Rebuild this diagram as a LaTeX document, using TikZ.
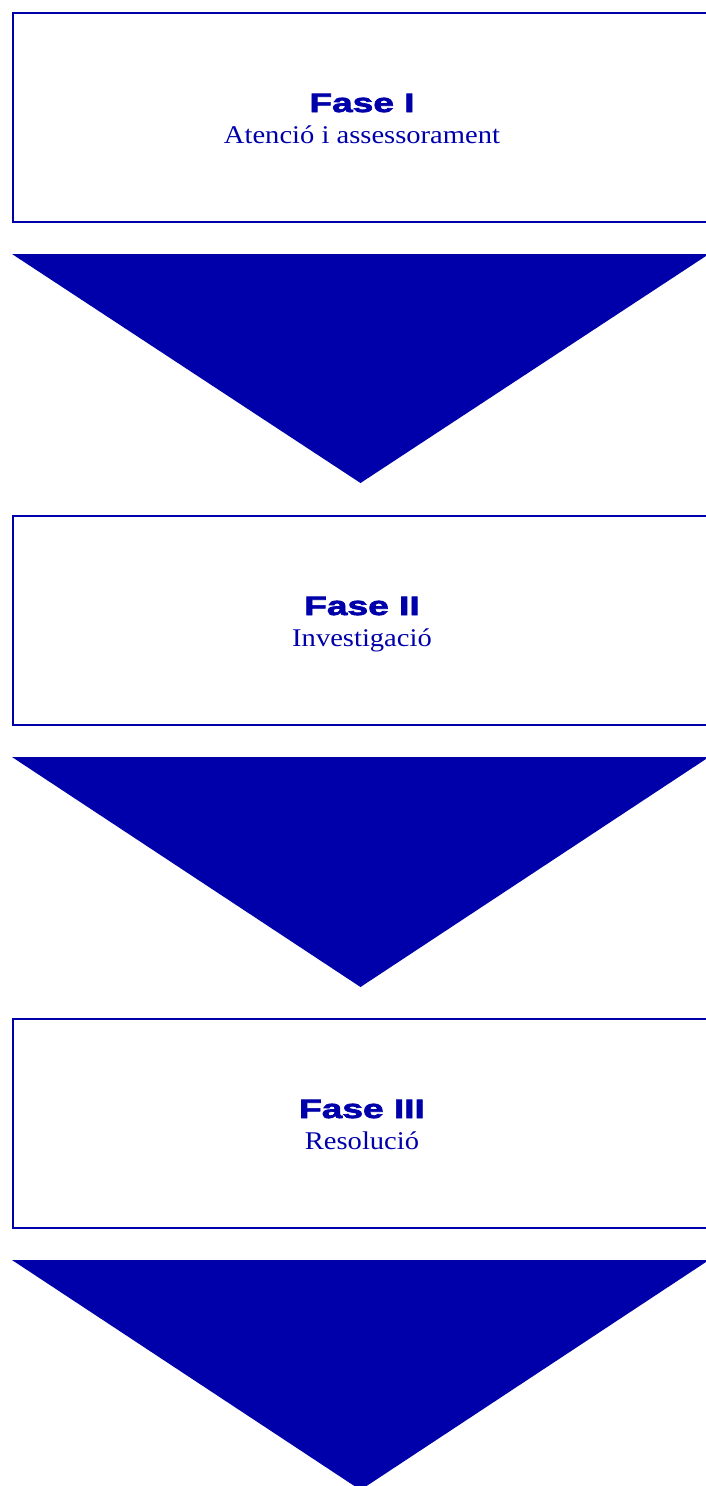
\documentclass[tikz,border=0pt]{standalone}
\usepackage{fontspec}
\setmainfont{Liberation Serif}
\newfontfamily\widefont[FakeStretch=1.40,FakeBold=2.6]{Liberation Sans Bold}
\newfontfamily\bodyfont[FakeStretch=1.12]{Liberation Serif}
\definecolor{fblue}{HTML}{0000AA}
\begin{document}
\begin{tikzpicture}[x=1pt,y=-1pt,
  phasebox/.style={draw=fblue,line width=2pt,rectangle,minimum width=700pt,minimum height=209pt,inner sep=0pt,anchor=north west},
  phasetitle/.style={anchor=base,text=fblue,inner sep=0pt,font=\widefont\fontsize{26.5}{30}\selectfont},
  phasetext/.style={anchor=base,text=fblue,inner sep=0pt,font=\bodyfont\fontsize{25.5}{30}\selectfont},
  arrowtri/.style={fill=fblue,draw=none}]
\useasboundingbox (0,0) rectangle (706,1486);
\begin{scope}
\clip (0,0) rectangle (706,1486);
% boxes
\node[phasebox] (b1) at (12,12) {};
\node[phasebox] (b2) at (12,515) {};
\node[phasebox] (b3) at (12,1018) {};
% texts
\node[phasetitle] (t1) at (362,112) {Fase I};
\node[phasetext] (s1) at (362,143.5) {Atenció i assessorament};
\node[phasetitle] (t2) at (362,615) {Fase II};
\node[phasetext] (s2) at (362,646.5) {Investigació};
\node[phasetitle] (t3) at (362,1118) {Fase III};
\node[phasetext] (s3) at (362,1149.5) {Resolució};
% triangles
\fill[arrowtri] (12,254) -- (709,254) -- (360.5,483) -- cycle;
\fill[arrowtri] (12,757) -- (709,757) -- (360.5,987) -- cycle;
\fill[arrowtri] (12,1260) -- (709,1260) -- (360.5,1490) -- cycle;
\end{scope}
\end{tikzpicture}
\end{document}
